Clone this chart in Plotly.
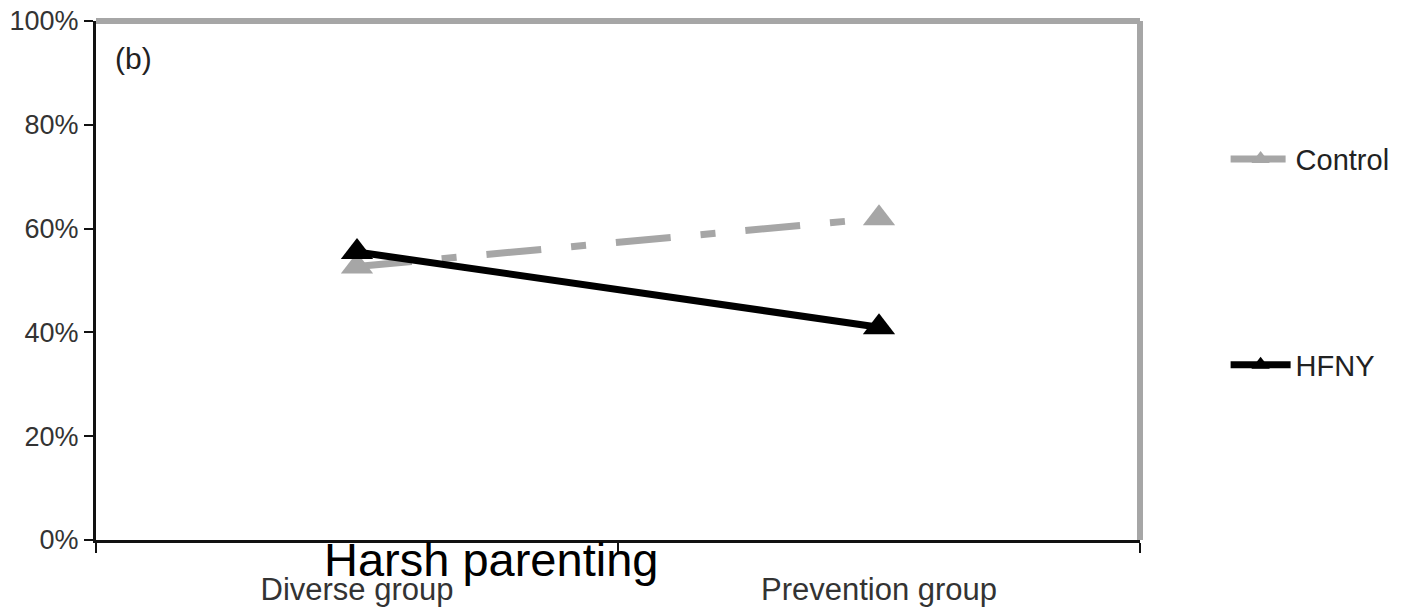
import plotly.graph_objects as go

categories = ["Diverse group", "Prevention group"]
control = [0.527, 0.620]
hfny = [0.555, 0.410]
y_ticks = [0, 0.2, 0.4, 0.6, 0.8, 1.0]
y_tick_text = ["0%", "20%", "40%", "60%", "80%", "100%"]

fig = go.Figure()
fig.add_trace(go.Scatter(
    x=categories, y=control, name="Control", mode="lines+markers",
    line=dict(color="#a6a6a6", width=7, dash="55px,30px,15px,30px"),
    marker=dict(symbol="triangle-up", size=28, color="#a6a6a6"),
    legendgroup="c",
))
fig.add_trace(go.Scatter(
    x=categories, y=hfny, name="HFNY", mode="lines+markers",
    line=dict(color="#000000", width=7),
    marker=dict(symbol="triangle-up", size=28, color="#000000"),
    legendgroup="h",
))

fig.update_layout(
    width=1406, height=609,
    margin=dict(l=96, r=266, t=21, b=69, autoexpand=False),
    paper_bgcolor="white", plot_bgcolor="white",
    font=dict(family="Liberation Sans, Arial, sans-serif", size=27, color="#333333"),
    showlegend=True,
    legend=dict(x=1.082, y=0.783, xanchor="left", yanchor="top",
                tracegroupgap=165, font=dict(size=29, color="#222222"),
                itemwidth=60, bgcolor="rgba(0,0,0,0)"),
    xaxis=dict(
        type="category", range=[-0.5, 1.5], showgrid=False, automargin=False,
        showline=True, linecolor="#111111", linewidth=3,
        ticks="outside", tickson="boundaries", ticklen=10, tickwidth=2, tickcolor="#111111",
        ticklabelstandoff=20, tickfont=dict(size=31, color="#333333"),
        ticklabeloverflow="allow", zeroline=False,
    ),
    yaxis=dict(
        range=[0, 1.0], tickvals=y_ticks, ticktext=y_tick_text, automargin=False,
        showgrid=False, showline=True, linecolor="#111111", linewidth=3,
        ticks="outside", ticklen=9, tickwidth=2, tickcolor="#111111",
        tickfont=dict(size=27, color="#333333"), zeroline=False,
        ticklabeloverflow="allow",
    ),
    shapes=[
        dict(type="line", xref="paper", yref="paper", x0=0, x1=1, y0=1, y1=1,
             line=dict(color="#a6a6a6", width=6)),
        dict(type="line", xref="paper", yref="paper", x0=1, x1=1, y0=0, y1=1,
             line=dict(color="#a6a6a6", width=6)),
    ],
    annotations=[
        dict(text="(b)", xref="paper", yref="paper", x=0.016, y=0.928,
             xanchor="left", yanchor="middle", showarrow=False,
             font=dict(size=30, color="#222222")),
        dict(text="Harsh parenting", xref="paper", yref="paper", x=0.378, y=0,
             xanchor="center", yanchor="middle", yshift=-19, showarrow=False,
             font=dict(size=47, color="#000000", family="Liberation Sans, Arial, sans-serif")),
    ],
)

fig.write_html("out.html", config={"displayModeBar": False},
               post_script="document.body.style.margin='0';")
